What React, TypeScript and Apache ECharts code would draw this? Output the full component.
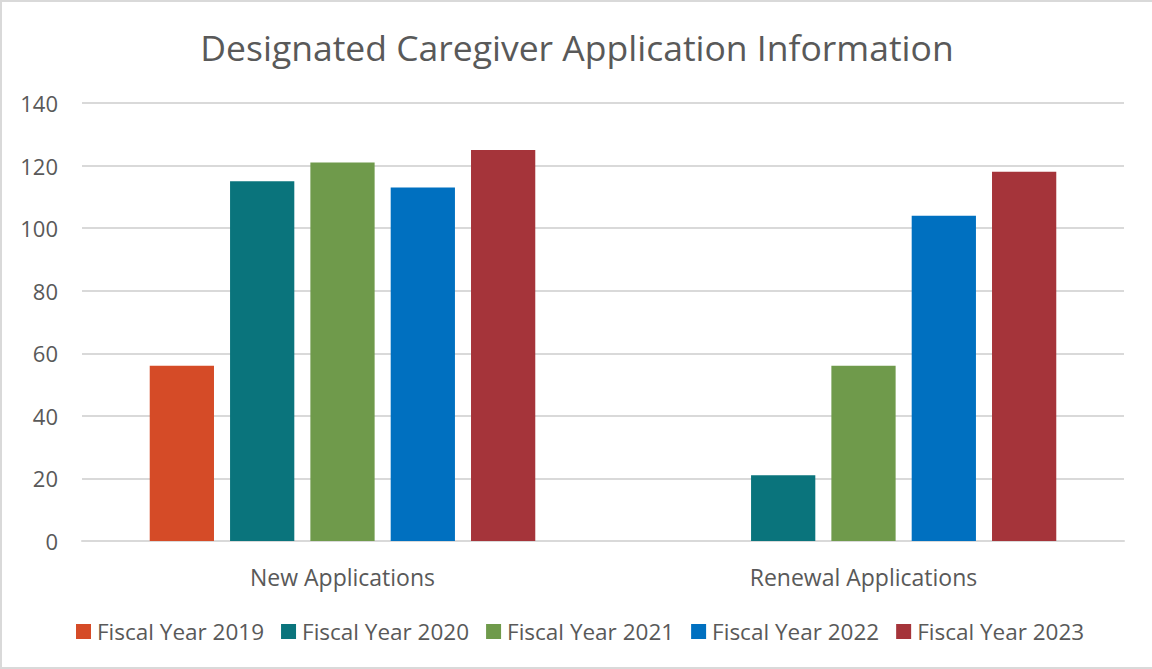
import React, { useEffect, useRef } from "react";
import * as echarts from "echarts";

const categories = ["New Applications", "Renewal Applications"];
const seriesNames = ["Fiscal Year 2019", "Fiscal Year 2020", "Fiscal Year 2021", "Fiscal Year 2022", "Fiscal Year 2023"];
const fy2019 = [56, null];
const fy2020 = [115, 21];
const fy2021 = [121, 56];
const fy2022 = [113, 104];
const fy2023 = [125, 118];
const colors = ["#D54B27", "#0A747C", "#6F9A4B", "#0070C0", "#A5343A"];
const yTicks = { min: 0, max: 140, interval: 20 };

const FONT = "'Segoe UI', 'Open Sans', 'Noto Sans', sans-serif";

export default function App() {
  const ref = useRef<HTMLDivElement>(null);
  useEffect(() => {
    if (!ref.current) return;
    const chart = echarts.init(ref.current, null, { renderer: "svg" });
    const data = [fy2019, fy2020, fy2021, fy2022, fy2023];
    chart.setOption({
      animation: false,
      backgroundColor: "#ffffff",
      title: {
        text: "Designated Caregiver Application Information",
        left: "center",
        top: 22,
        textStyle: { fontFamily: FONT, fontSize: 35.5, fontWeight: "normal", color: "#595959" },
      },
      legend: {
        bottom: 19,
        left: 69,
        itemWidth: 15,
        itemHeight: 15,
        itemGap: 17,
        icon: "rect",
        textStyle: { fontFamily: FONT, fontSize: 22.5, color: "#595959", padding: [0, 0, 0, 1] },
        data: seriesNames,
      },
      grid: { left: 80, right: 28, top: 101, bottom: 126, containLabel: false },
      xAxis: {
        type: "category",
        data: categories,
        axisLine: { show: true, lineStyle: { color: "#D9D9D9", width: 2 } },
        axisTick: { show: false },
        axisLabel: { fontFamily: FONT, fontSize: 23, color: "#595959", margin: 24 },
      },
      yAxis: {
        type: "value",
        min: yTicks.min,
        max: yTicks.max,
        interval: yTicks.interval,
        axisLine: { show: false },
        axisTick: { show: false },
        splitLine: { lineStyle: { color: "#D9D9D9", width: 2 } },
        axisLabel: { fontFamily: FONT, fontSize: 22, color: "#595959", margin: 24 },
      },
      series: seriesNames.map((name, i) => ({
        name,
        type: "bar",
        data: data[i],
        barGap: "25%",
        barCategoryGap: "26%",
        itemStyle: { color: colors[i] },
      })),
    });
    return () => chart.dispose();
  }, []);
  return (
    <div
      ref={ref}
      style={{
        position: "absolute",
        left: 0,
        top: 0,
        width: 1152,
        height: 669,
        boxSizing: "border-box",
        borderLeft: "2px solid #D9D9D9",
        borderTop: "2px solid #D9D9D9",
        borderBottom: "2px solid #D9D9D9",
      }}
    />
  );
}
